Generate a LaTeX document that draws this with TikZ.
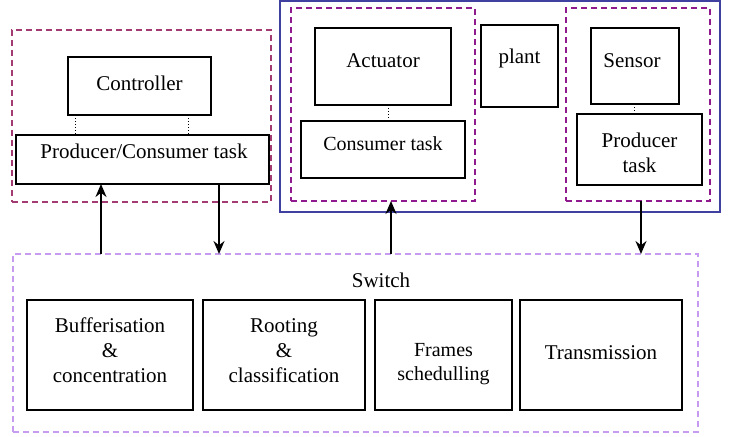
\documentclass[tikz,border=0pt]{standalone}
\usepackage{fontspec}
\setmainfont{Liberation Serif}
\usetikzlibrary{arrows.meta}
\definecolor{grpmaroon}{HTML}{A23B72}
\definecolor{grppurple}{HTML}{8E1A8E}
\definecolor{blueframe}{HTML}{4040A0}
\definecolor{lilac}{HTML}{C79BEF}
\tikzset{
  box/.style={draw=black, line width=1.5pt, inner sep=0pt, outer sep=0pt, rectangle},
  grp/.style={draw=#1, line width=1.5pt, dash pattern=on 6pt off 4pt, inner sep=0pt, outer sep=0pt, rectangle},
  frame/.style={draw=blueframe, line width=1.6pt, inner sep=0pt, outer sep=0pt, rectangle},
  lbl/.style={inner sep=0pt, align=center, font=\fontsize{21}{25}\selectfont},
  arr/.style={line width=1.6pt, -{Stealth[length=13pt,width=11pt]}},
  dots/.style={line width=1pt, dotted},
}
\begin{document}
\begin{tikzpicture}[x=1pt,y=-1pt]
\useasboundingbox (0,0) rectangle (740,437);
% left group
\node[grp=grpmaroon, minimum width=259pt, minimum height=172pt] (grpC) at (141.5,116) {};
\node[box, minimum width=143pt, minimum height=58pt] (ctrl) at (139.5,86) {};
\node[box, minimum width=253pt, minimum height=49pt] (pc) at (142.5,159.5) {};
\node[lbl] (tctrl) at (139.5,83) {Controller};
\node[lbl] (tpc) at (144,151) {Producer/Consumer task};
% plant frame
\node[frame, minimum width=440pt, minimum height=211pt] (plantframe) at (500,106.5) {};
\node[grp=grppurple, minimum width=184pt, minimum height=193pt] (grpA) at (383,104.5) {};
\node[box, minimum width=136pt, minimum height=77pt] (act) at (383,66.5) {};
\node[box, minimum width=164pt, minimum height=57pt] (cons) at (383,149.5) {};
\node[lbl] (tact) at (383,61) {Actuator};
\node[lbl, font=\fontsize{20}{24}\selectfont] (tcons) at (383,144) {Consumer task};
\node[box, minimum width=77pt, minimum height=82pt] (plant) at (519.5,66) {};
\node[lbl] (tplant) at (519.5,58) {plant};
\node[grp=grppurple, minimum width=144pt, minimum height=193pt] (grpS) at (638,104.5) {};
\node[box, minimum width=88pt, minimum height=76pt] (sens) at (635,66) {};
\node[box, minimum width=125pt, minimum height=71pt] (prod) at (639.5,149.5) {};
\node[lbl] (tsens) at (632,61) {Sensor};
\node[lbl] (tprod) at (639.5,152.5) {Producer\\task};
% switch
\node[grp=lilac, minimum width=685pt, minimum height=178pt] (switch) at (355.5,343) {};
\node[lbl] (tswitch) at (381,280) {Switch};
\node[box, minimum width=166pt, minimum height=110pt] (b1) at (110,355) {};
\node[box, minimum width=162pt, minimum height=110pt] (b2) at (284,355) {};
\node[box, minimum width=137pt, minimum height=110pt] (b3) at (443.5,355) {};
\node[box, minimum width=162pt, minimum height=110pt] (b4) at (601,355) {};
\node[lbl] (tb1) at (110,350.5) {Bufferisation\\\&\\concentration};
\node[lbl] (tb2) at (284,350.5) {Rooting\\\&\\classification};
\node[lbl, font=\fontsize{20}{24}\selectfont] (tb3) at (443.5,364.5) {Frames\\schedulling};
\node[lbl] (tb4) at (601,352.5) {Transmission};
% dotted links
\draw[dots] ([xshift=-64.5pt]ctrl.south) -- ([xshift=-64.5pt]ctrl.south |- pc.north);
\draw[dots] ([xshift=48.5pt]ctrl.south) -- ([xshift=48.5pt]ctrl.south |- pc.north);
\draw[dots] ([xshift=5pt]act.south) -- ([xshift=5pt]act.south |- cons.north);
\draw[dots] ([xshift=-1pt]sens.south) -- ([xshift=-1pt]sens.south |- prod.north);
% arrows
\draw[arr] ([xshift=-41.5pt]pc.south |- switch.north) -- ([xshift=-41.5pt]pc.south);
\draw[arr] ([xshift=76.5pt]pc.south) -- ([xshift=76.5pt]pc.south |- switch.north);
\draw[arr] ([xshift=8pt]grpA.south |- switch.north) -- ([xshift=8pt]grpA.south);
\draw[arr] ([xshift=3pt]grpS.south) -- ([xshift=3pt]grpS.south |- switch.north);
\end{tikzpicture}
\end{document}
